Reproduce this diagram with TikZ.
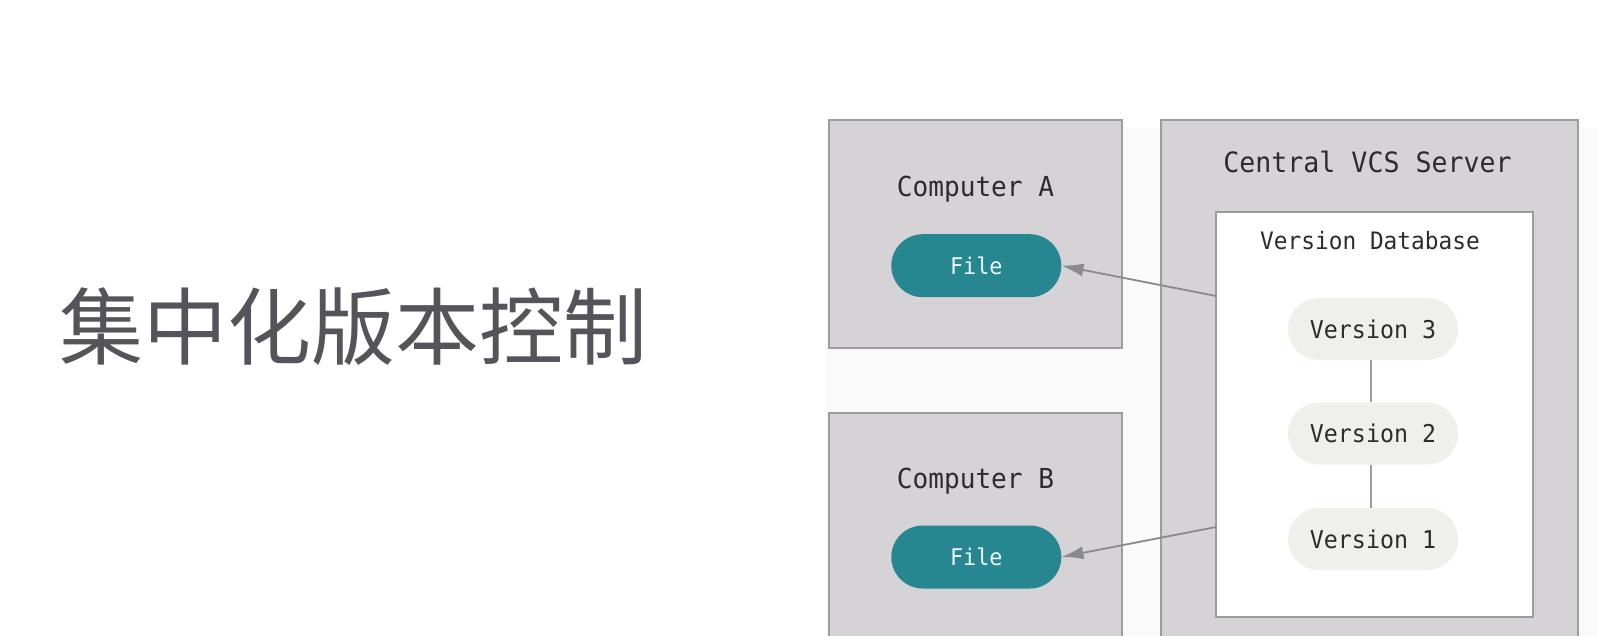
\documentclass[tikz,border=0pt]{standalone}
\usepackage{fontspec}
\usetikzlibrary{arrows.meta,shapes.misc}
\newfontfamily\cjk{Noto Sans CJK SC}
\newfontfamily\monof[FakeStretch=0.95]{DejaVu Sans Mono}
\definecolor{boxfill}{HTML}{D5D3D6}
\definecolor{boxline}{HTML}{9D9C9E}
\definecolor{teal}{HTML}{268791}
\definecolor{verfill}{HTML}{EFEFEB}
\definecolor{txt}{HTML}{2C2C2C}
\definecolor{titlec}{HTML}{55545A}
\definecolor{arrc}{HTML}{8A8A8A}
\definecolor{diagbg}{HTML}{FAFAFA}
\tikzset{
  panel/.style={draw=boxline, fill=boxfill, line width=2pt},
  dbpanel/.style={draw=boxline, fill=white, line width=2pt},
  lbl/.style={text=txt, inner sep=0pt, anchor=base},
  filepill/.style={rounded rectangle, fill=teal, text=white!92!teal, minimum width=170pt, minimum height=63pt, inner sep=0pt, font=\monof\fontsize{23}{23}\selectfont},
  verpill/.style={rounded rectangle, fill=verfill, text=txt, minimum width=170pt, minimum height=62pt, inner sep=0pt, font=\monof\fontsize{24.5}{24.5}\selectfont},
  arr/.style={draw=arrc, line width=1.8pt, -{Latex[length=22pt,width=13pt]}},
  vline/.style={draw=boxline, line width=1.5pt}
}
\begin{document}
\begin{tikzpicture}[x=1pt,y=-1pt]
\useasboundingbox (0,0) rectangle (1598,636);
\fill[white] (0,0) rectangle (1598,636);
\fill[diagbg] (826,128) rectangle (1598,636);
% title
\node[text=titlec, inner sep=0pt, font=\cjk\fontsize{84}{84}\selectfont] (title) at (353.5,327) {集中化版本控制};
% computer panels
\draw[panel] (828.5,120) rectangle (1121.5,347.5);
\draw[panel] (828.5,412.5) rectangle (1121.5,645);
% server panel
\draw[panel] (1161,120) rectangle (1577.5,645);
\draw[dbpanel] (1216,212) rectangle (1533,617);
% labels
\node[lbl, font=\monof\fontsize{27.5}{27.5}\selectfont] (labA) at (975.5,196.7) {Computer A};
\node[lbl, font=\monof\fontsize{27.5}{27.5}\selectfont] (labB) at (975.5,488.2) {Computer B};
\node[lbl, font=\monof\fontsize{28}{28}\selectfont] (labS) at (1367.5,172.7) {Central VCS Server};
\node[lbl, font=\monof\fontsize{24}{24}\selectfont] (labD) at (1370,250) {Version Database};
% files
\node[filepill] (fileA) at (976.3,265.7) {File};
\node[filepill] (fileB) at (976.3,557) {File};
% versions
\node[verpill] (v3) at (1373,329) {Version 3};
\node[verpill] (v2) at (1373,433.5) {Version 2};
\node[verpill] (v1) at (1373,539) {Version 1};
\draw[vline] (v3.south -| 1371,0) -- (v2.north -| 1371,0);
\draw[vline] (v2.south -| 1371,0) -- (v1.north -| 1371,0);
% arrows
\coordinate (srcA) at (1216,296);
\coordinate (srcB) at (1216,527);
\draw[arr] (srcA) -- (fileA.east);
\draw[arr] (srcB) -- (fileB.east);
\end{tikzpicture}
\end{document}
